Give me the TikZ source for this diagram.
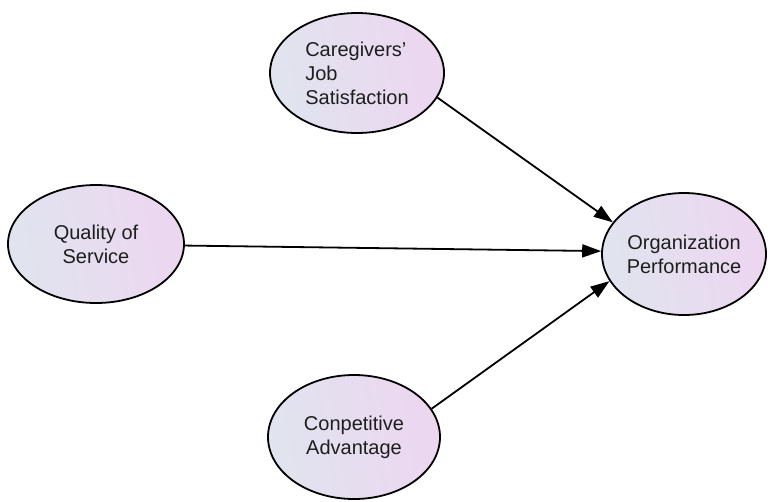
\documentclass[tikz,border=0pt]{standalone}
\usepackage{fontspec}
\setmainfont{Liberation Sans}
\usetikzlibrary{shapes.geometric,arrows.meta}
\definecolor{gl}{HTML}{E0E4EF}
\definecolor{gr}{HTML}{EDD6F0}
\definecolor{txt}{HTML}{1E1E1E}
\begin{document}
\begin{tikzpicture}[x=1pt,y=-1pt,
  var/.style={ellipse,draw=black,line width=1.8pt,left color=gl,right color=gr,
    shading angle=100,
    inner sep=0pt,font=\fontsize{20}{24}\selectfont,text=txt,align=center},
  arr/.style={line width=1.8pt,-{Triangle[length=19pt,width=13pt]}}]
\useasboundingbox (0,0) rectangle (768,501);
\node[var,minimum width=174pt,minimum height=120pt,align=left] (cs) at (357,73) {Caregivers’\\Job\\Satisfaction};
\node[var,minimum width=176pt,minimum height=118pt] (qs) at (96,244) {Quality of\\Service};
\node[var,minimum width=164pt,minimum height=122pt] (op) at (684,254) {Organization\\Performance};
\node[var,minimum width=172pt,minimum height=124pt] (ca) at (354,437) {Conpetitive\\Advantage};
\draw[arr] (cs.-17) -- (op.156);
\draw[arr] (qs.-1) -- (op.178.5);
\draw[arr] (ca.20) -- (op.-160);
\end{tikzpicture}
\end{document}
